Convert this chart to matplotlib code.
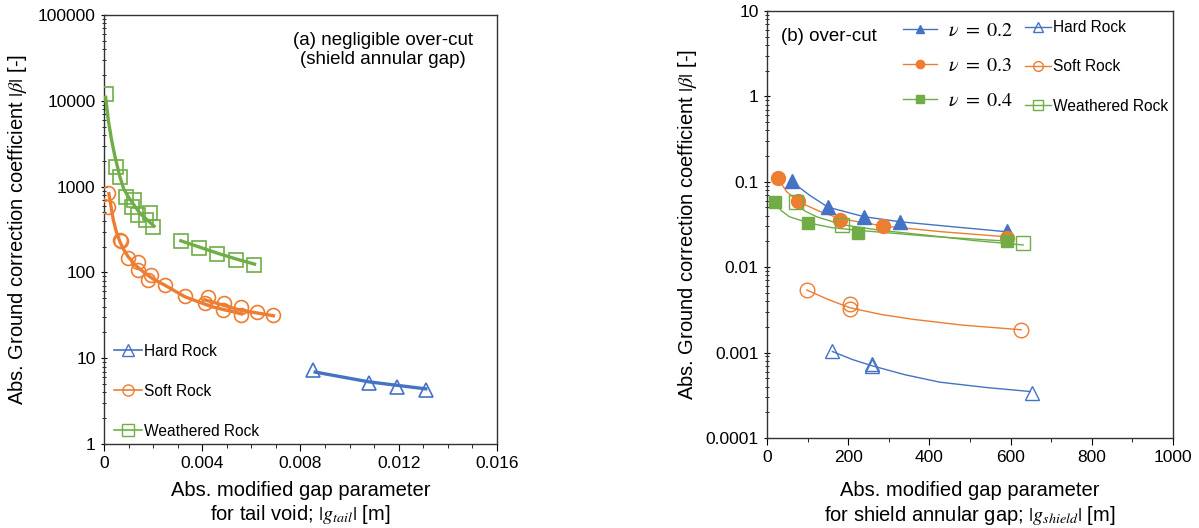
import matplotlib
matplotlib.use("Agg")
import matplotlib.pyplot as plt
from matplotlib.lines import Line2D
from matplotlib.ticker import MultipleLocator, LogLocator, NullFormatter, FixedLocator

plt.rcParams['font.family'] = ['Liberation Sans', 'DejaVu Sans']
plt.rcParams['mathtext.fontset'] = 'stix'

BLUE = '#4472C4'
ORANGE = '#ED7D31'
GREEN = '#70AD47'

# ---- (a) negligible over-cut : tail void ----
hard_a_x = [0.0085, 0.0108, 0.01195, 0.0131]
hard_a_y = [7.3, 5.1, 4.6, 4.25]
soft_a_x = [0.00018, 0.00018, 0.00065, 0.0007, 0.00099, 0.00137, 0.00137, 0.0019, 0.0018, 0.0025,
            0.0033, 0.00424, 0.0041, 0.00489, 0.00485, 0.00556, 0.00556, 0.00624, 0.0069]
soft_a_y = [850, 575, 240, 230, 146, 133, 107, 93, 82, 71,
            53, 52, 44, 44, 36.6, 40, 32, 35, 32]
weath_a_x = [0.00007, 0.00048, 0.00065, 0.00088, 0.00123, 0.00115, 0.0014, 0.00187, 0.00173, 0.002,
             0.00313, 0.00387, 0.00462, 0.00539, 0.0061]
weath_a_y = [12000, 1700, 1300, 760, 700, 585, 465, 490, 410, 340,
             234, 195, 164, 139, 122]

# trend lines
hard_a_fit_x = [0.0086, 0.0108, 0.0131]
hard_a_fit_y = [6.9, 5.3, 4.4]
soft_a_fit1_x = [0.0002, 0.0003, 0.00038, 0.0005, 0.00065, 0.0008, 0.00099, 0.0013, 0.00167, 0.002, 0.00248, 0.0033, 0.00437, 0.0056]
soft_a_fit1_y = [830, 560, 410, 300, 228, 185, 152, 120, 98, 84, 71, 52, 40, 33]
soft_a_fit2_x = [0.0041, 0.0048, 0.0056, 0.0063, 0.0069]
soft_a_fit2_y = [48, 42, 36, 33.5, 31.3]
weath_a_fit1_x = [0.00007, 0.000175, 0.00031, 0.00045, 0.00065, 0.0008, 0.00099, 0.00146, 0.00204]
weath_a_fit1_y = [11000, 6000, 3500, 2230, 1300, 950, 760, 490, 347]
weath_a_fit2_x = [0.00313, 0.0039, 0.00464, 0.0054, 0.00613]
weath_a_fit2_y = [234, 197, 167, 143, 125]

# ---- (b) over-cut : shield annular gap ----
nu02_x = [61, 150, 239, 328, 590]
nu02_y = [0.103, 0.050, 0.039, 0.034, 0.0264]
nu03_x = [28, 77, 180, 285, 590]
nu03_y = [0.11, 0.060, 0.036, 0.030, 0.022]
nu04_x = [20, 102, 225, 590]
nu04_y = [0.058, 0.033, 0.0248, 0.0202]
hard_b_x = [161, 259, 259, 652]
hard_b_y = [0.00105, 0.00074, 0.00069, 0.00034]
soft_b_x = [98, 204, 204, 626]
soft_b_y = [0.00547, 0.00366, 0.0032, 0.00185]
weath_b_x = [71, 184, 631]
weath_b_y = [0.058, 0.0315, 0.0193]

nu02_fit_x = [61, 106, 150, 239, 328, 459, 590]
nu02_fit_y = [0.1, 0.069, 0.0505, 0.039, 0.034, 0.0297, 0.026]
nu03_fit_x = [28, 48, 77, 130, 180, 285, 430, 590]
nu03_fit_y = [0.108, 0.077, 0.0585, 0.045, 0.037, 0.0304, 0.026, 0.0227]
nu04_fit_x = [20, 35, 55, 102, 160, 225, 400, 590]
nu04_fit_y = [0.0566, 0.046, 0.039, 0.033, 0.029, 0.027, 0.023, 0.0202]
weath_b_fit_x = [71, 95, 122, 184, 280, 393, 510, 631]
weath_b_fit_y = [0.055, 0.045, 0.039, 0.0315, 0.027, 0.0237, 0.0205, 0.0182]
soft_b_fit_x = [98, 150, 204, 280, 360, 480, 626]
soft_b_fit_y = [0.0054, 0.0042, 0.00335, 0.0028, 0.00245, 0.0021, 0.00185]
hard_b_fit_x = [161, 210, 259, 340, 426, 540, 648]
hard_b_fit_y = [0.00103, 0.00083, 0.0007, 0.00055, 0.00045, 0.00039, 0.00035]

fig = plt.figure(figsize=(11.99, 5.28), dpi=100)
ax1 = fig.add_axes([0.0867, 0.159, 0.3278, 0.8125])
ax2 = fig.add_axes([0.6397, 0.1705, 0.3386, 0.8087])

lw_a = 2.4
ms_a = 10
ax1.plot(hard_a_fit_x, hard_a_fit_y, color=BLUE, lw=lw_a, zorder=3)
ax1.plot(soft_a_fit1_x, soft_a_fit1_y, color=ORANGE, lw=lw_a, zorder=3)
ax1.plot(soft_a_fit2_x, soft_a_fit2_y, color=ORANGE, lw=lw_a, zorder=3)
ax1.plot(weath_a_fit1_x, weath_a_fit1_y, color=GREEN, lw=lw_a, zorder=3)
ax1.plot(weath_a_fit2_x, weath_a_fit2_y, color=GREEN, lw=lw_a, zorder=3)
ax1.plot(hard_a_x, hard_a_y, ls='none', marker='^', ms=ms_a, mfc='none', mec=BLUE, mew=1.2, zorder=4)
ax1.plot(soft_a_x, soft_a_y, ls='none', marker='o', ms=ms_a, mfc='none', mec=ORANGE, mew=1.2, zorder=4)
ax1.plot(weath_a_x, weath_a_y, ls='none', marker='s', ms=ms_a, mfc='none', mec=GREEN, mew=1.2, zorder=4)

ax1.set_yscale('log')
ax1.set_xlim(0, 0.016)
ax1.set_ylim(1, 100000)
ax1.xaxis.set_major_locator(FixedLocator([0, 0.004, 0.008, 0.012, 0.016]))
ax1.set_xticklabels(['0', '0.004', '0.008', '0.012', '0.016'])
ax1.xaxis.set_minor_locator(MultipleLocator(0.001))
ax1.set_yticks([1, 10, 100, 1000, 10000, 100000])
ax1.set_yticklabels(['1', '10', '100', '1000', '10000', '100000'])
ax1.yaxis.set_minor_locator(LogLocator(base=10, subs=range(2, 10), numticks=10))
ax1.yaxis.set_minor_formatter(NullFormatter())
ax1.set_xlabel('Abs. modified gap parameter\nfor tail void; $|g_{tail}|$ [m]', fontsize=14.5, labelpad=7)
ax1.set_ylabel(r'Abs. Ground correction coefficient $|\beta|$ [-]', fontsize=14.5, labelpad=6)
ax1.text(0.71, 0.96, '(a) negligible over-cut\n(shield annular gap)', transform=ax1.transAxes,
         ha='center', va='top', fontsize=13.5, linespacing=1.1)

handles_a = [Line2D([], [], color=BLUE, lw=1.2, marker='^', ms=8, mfc='none', mec=BLUE),
             Line2D([], [], color=ORANGE, lw=1.2, marker='o', ms=8, mfc='none', mec=ORANGE),
             Line2D([], [], color=GREEN, lw=1.2, marker='s', ms=8, mfc='none', mec=GREEN)]
ax1.legend(handles_a, ['Hard Rock', 'Soft Rock', 'Weathered Rock'], loc='lower left',
           bbox_to_anchor=(-0.01, -0.02), frameon=False, fontsize=11.2, handlelength=1.8,
           handletextpad=0.1, labelspacing=1.6, borderaxespad=0.5)

lw_b = 1.0
ax2.plot(nu02_fit_x, nu02_fit_y, color=BLUE, lw=lw_b, zorder=3)
ax2.plot(nu03_fit_x, nu03_fit_y, color=ORANGE, lw=lw_b, zorder=3)
ax2.plot(nu04_fit_x, nu04_fit_y, color=GREEN, lw=lw_b, zorder=3)
ax2.plot(weath_b_fit_x, weath_b_fit_y, color=GREEN, lw=lw_b, zorder=3)
ax2.plot(soft_b_fit_x, soft_b_fit_y, color=ORANGE, lw=lw_b, zorder=3)
ax2.plot(hard_b_fit_x, hard_b_fit_y, color=BLUE, lw=lw_b, zorder=3)
ax2.plot(nu02_x, nu02_y, ls='none', marker='^', ms=10, color=BLUE, zorder=4)
ax2.plot(nu03_x, nu03_y, ls='none', marker='o', ms=10, color=ORANGE, zorder=4)
ax2.plot(nu04_x, nu04_y, ls='none', marker='s', ms=9, color=GREEN, zorder=4)
ax2.plot(weath_b_x, weath_b_y, ls='none', marker='s', ms=10.5, mfc='none', mec=GREEN, mew=1.0, zorder=4)
ax2.plot(soft_b_x, soft_b_y, ls='none', marker='o', ms=10.5, mfc='none', mec=ORANGE, mew=1.0, zorder=4)
ax2.plot(hard_b_x, hard_b_y, ls='none', marker='^', ms=10.5, mfc='none', mec=BLUE, mew=1.0, zorder=4)

ax2.set_yscale('log')
ax2.set_xlim(0, 1000)
ax2.set_ylim(0.0001, 10)
ax2.xaxis.set_major_locator(MultipleLocator(200))
ax2.xaxis.set_minor_locator(MultipleLocator(100))
ax2.set_yticks([0.0001, 0.001, 0.01, 0.1, 1, 10])
ax2.set_yticklabels(['0.0001', '0.001', '0.01', '0.1', '1', '10'])
ax2.yaxis.set_minor_locator(LogLocator(base=10, subs=range(2, 10), numticks=10))
ax2.yaxis.set_minor_formatter(NullFormatter())
ax2.set_xlabel('Abs. modified gap parameter\nfor shield annular gap; $|g_{shield}|$ [m]', fontsize=14.5, labelpad=12)
ax2.set_ylabel(r'Abs. Ground correction coefficient $|\beta|$ [-]', fontsize=14.5, labelpad=5)
ax2.text(0.035, 0.96, '(b) over-cut', transform=ax2.transAxes, ha='left', va='top', fontsize=13.5)

handles_nu = [Line2D([], [], color=BLUE, lw=1.0, marker='^', ms=6),
              Line2D([], [], color=ORANGE, lw=1.0, marker='o', ms=6),
              Line2D([], [], color=GREEN, lw=1.0, marker='s', ms=6)]
leg_nu = ax2.legend(handles_nu, [r'$\nu\ =\ 0.2$', r'$\nu\ =\ 0.3$', r'$\nu\ =\ 0.4$'],
                    loc='upper left', bbox_to_anchor=(0.29, 1.02), frameon=False, fontsize=14.5,
                    handlelength=1.7, handletextpad=0.55, labelspacing=0.8)
ax2.add_artist(leg_nu)
handles_rock = [Line2D([], [], color=BLUE, lw=1.0, marker='^', ms=7, mfc='none', mec=BLUE),
                Line2D([], [], color=ORANGE, lw=1.0, marker='o', ms=7, mfc='none', mec=ORANGE),
                Line2D([], [], color=GREEN, lw=1.0, marker='s', ms=7, mfc='none', mec=GREEN)]
ax2.legend(handles_rock, ['Hard Rock', 'Soft Rock', 'Weathered Rock'], loc='upper left',
           bbox_to_anchor=(0.6, 1.011), frameon=False, fontsize=11.2, handlelength=1.7,
           handletextpad=0.1, labelspacing=1.55)

for ax in (ax1, ax2):
    ax.tick_params(which='major', direction='out', length=5, labelsize=12.5)
    ax.tick_params(which='minor', direction='out', length=3)
    ax.tick_params(axis='y', which='both', direction='inout')
    for sp in ax.spines.values():
        sp.set_linewidth(1.0)
        sp.set_color('#333333')

fig.savefig('out.png', dpi=100)
